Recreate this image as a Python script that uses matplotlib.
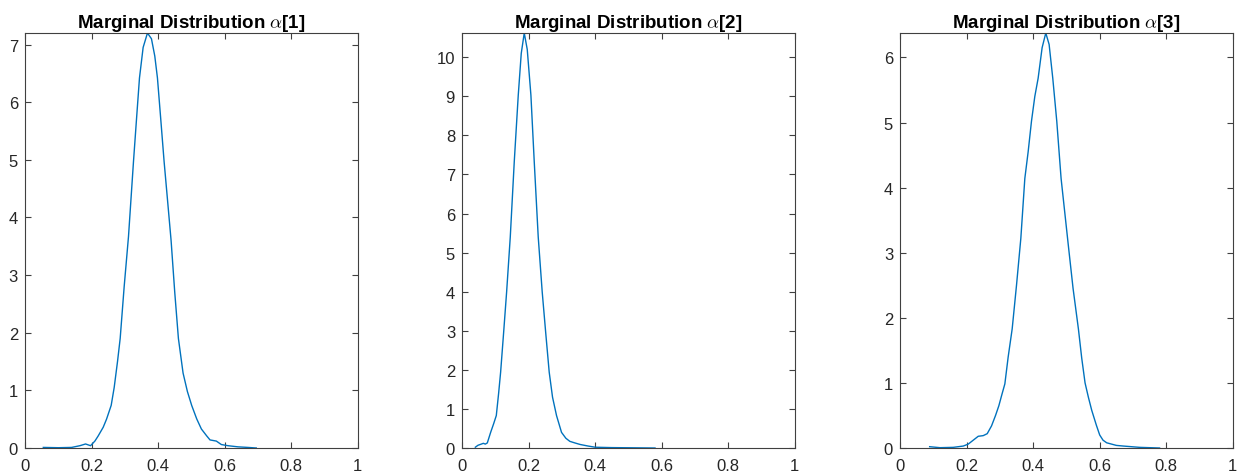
import matplotlib
matplotlib.use('Agg')
import matplotlib.pyplot as plt
import numpy as np

plt.rcParams['font.family'] = ['Liberation Sans', 'DejaVu Sans']
plt.rcParams['mathtext.fontset'] = 'cm'

LINE_COLOR = '#0072BD'
AX_COLOR = '#404040'

# kernel density estimates of each alpha component
alpha1_x = [0.055, 0.10, 0.14, 0.165, 0.182, 0.197, 0.210, 0.220, 0.235, 0.245,
            0.259, 0.268, 0.278, 0.286, 0.298, 0.311, 0.326, 0.335, 0.344, 0.355,
            0.368, 0.380, 0.390, 0.398, 0.408, 0.418, 0.428, 0.439, 0.450, 0.461,
            0.475, 0.488, 0.501, 0.516, 0.530, 0.546, 0.556, 0.575, 0.590, 0.610,
            0.640, 0.670, 0.695]
alpha1_y = [0.01, 0.005, 0.01, 0.04, 0.07, 0.04, 0.12, 0.21, 0.36, 0.50,
            0.74, 1.05, 1.50, 1.90, 2.80, 3.67, 4.97, 5.70, 6.42, 6.95,
            7.20, 7.10, 6.80, 6.42, 5.70, 4.97, 4.32, 3.60, 2.70, 1.90,
            1.30, 0.98, 0.737, 0.505, 0.33, 0.21, 0.14, 0.12, 0.06, 0.04,
            0.02, 0.01, 0.0]

alpha2_x = [0.040, 0.048, 0.058, 0.064, 0.070, 0.076, 0.086, 0.095, 0.103, 0.110,
            0.116, 0.125, 0.134, 0.145, 0.157, 0.169, 0.178, 0.187, 0.196, 0.207,
            0.217, 0.229, 0.241, 0.252, 0.262, 0.272, 0.284, 0.299, 0.312, 0.324,
            0.339, 0.355, 0.379, 0.40, 0.45, 0.58]
alpha2_y = [0.02, 0.07, 0.10, 0.12, 0.10, 0.13, 0.40, 0.62, 0.83, 1.40,
            1.94, 2.95, 3.99, 5.40, 7.33, 9.03, 10.10, 10.62, 10.20, 9.03,
            7.33, 5.40, 3.99, 2.90, 1.94, 1.30, 0.83, 0.40, 0.25, 0.17,
            0.13, 0.09, 0.05, 0.02, 0.01, 0.0]

alpha3_x = [0.089, 0.12, 0.16, 0.19, 0.205, 0.220, 0.235, 0.250, 0.262, 0.275,
            0.287, 0.297, 0.306, 0.315, 0.325, 0.337, 0.350, 0.363, 0.375, 0.385,
            0.395, 0.405, 0.415, 0.427, 0.438, 0.448, 0.459, 0.471, 0.484, 0.495,
            0.506, 0.520, 0.536, 0.546, 0.556, 0.566, 0.576, 0.590, 0.600, 0.610,
            0.621, 0.650, 0.671, 0.72, 0.78]
alpha3_y = [0.02, 0.005, 0.01, 0.03, 0.06, 0.12, 0.18, 0.19, 0.22, 0.34,
            0.50, 0.65, 0.82, 0.985, 1.40, 1.83, 2.50, 3.22, 4.14, 4.55,
            5.02, 5.40, 5.68, 6.15, 6.375, 6.20, 5.68, 5.02, 4.14, 3.62,
            3.10, 2.45, 1.83, 1.38, 1.00, 0.78, 0.58, 0.35, 0.20, 0.12,
            0.08, 0.04, 0.03, 0.01, 0.0]

curves = [(alpha1_x, alpha1_y), (alpha2_x, alpha2_y), (alpha3_x, alpha3_y)]
x_ticks = [0, 0.2, 0.4, 0.6, 0.8, 1]
x_tick_labels = ['0', '0.2', '0.4', '0.6', '0.8', '1']

fig = plt.figure(figsize=(12.44, 4.77), dpi=100)
lefts = [0.0201, 0.3714, 0.7235]

for i, (left, (xs, ys)) in enumerate(zip(lefts, curves)):
    ax = fig.add_axes([left, 0.0587, 0.2675, 0.870])
    ax.plot(xs, ys, color=LINE_COLOR, linewidth=1.0)
    ax.set_xlim(0, 1)
    ax.set_ylim(0, max(ys))
    ax.set_xticks(x_ticks)
    ax.set_xticklabels(x_tick_labels)
    ax.set_yticks(np.arange(0, int(max(ys)) + 1))
    ax.tick_params(direction='in', top=True, right=True, length=4, width=0.8,
                   color=AX_COLOR, labelcolor='#262626', labelsize=12)
    ax.tick_params(axis='x', pad=7)
    ax.tick_params(axis='y', pad=5)
    for s in ax.spines.values():
        s.set_color(AX_COLOR)
        s.set_linewidth(0.8)
    ax.set_title(r'Marginal Distribution $\alpha$[%d]' % (i + 1),
                 fontsize=13.5, fontweight='bold', pad=4)

fig.savefig('out.png', dpi=100)
